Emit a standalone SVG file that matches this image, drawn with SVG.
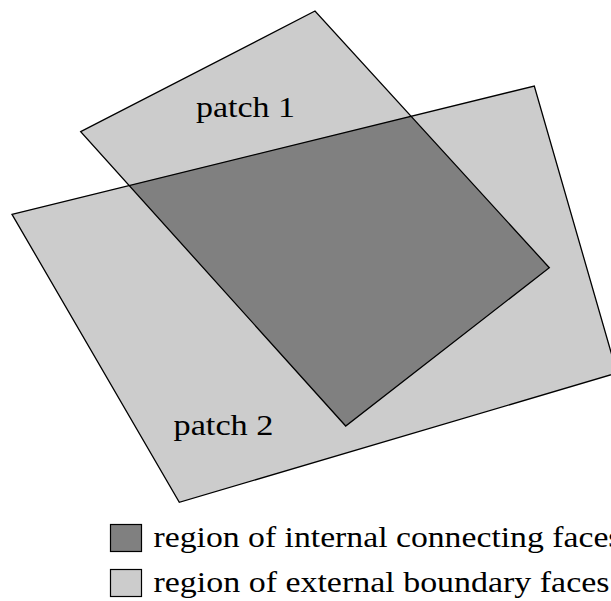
<svg xmlns="http://www.w3.org/2000/svg" width="611" height="601" viewBox="0 0 611 601">
<style>
.light{fill:#cccccc}
.dark{fill:#808080}
.edge{fill:none;stroke:#000;stroke-width:1.3;stroke-linejoin:miter}
.lbl{font-family:"Liberation Serif","DejaVu Serif",serif;font-size:29px;fill:#000}
.key{stroke:#000;stroke-width:1.2}
</style>
<defs>
<clipPath id="clipP1"><polygon points="80.7,131.7 315,11 549.3,267.7 345.7,426"/></clipPath>
</defs>
<rect width="611" height="601" fill="#fff"/>
<g id="patch2">
<polygon class="light" points="12,214.3 534.3,86 617,373 179.3,502.3"/>
</g>
<g id="patch1">
<polygon class="light" points="80.7,131.7 315,11 549.3,267.7 345.7,426"/>
</g>
<g id="overlap">
<polygon class="dark" clip-path="url(#clipP1)" points="12,214.3 534.3,86 617,373 179.3,502.3"/>
</g>
<g id="outlines">
<polygon class="edge" points="12,214.3 534.3,86 617,373 179.3,502.3"/>
<polygon class="edge" points="80.7,131.7 315,11 549.3,267.7 345.7,426"/>
</g>
<g id="labels">
<text class="lbl" x="196" y="117.3" textLength="99" lengthAdjust="spacingAndGlyphs">patch 1</text>
<text class="lbl" x="173.5" y="435" textLength="100" lengthAdjust="spacingAndGlyphs">patch 2</text>
</g>
<g id="legend-internal">
<rect class="key dark" x="110.5" y="524.5" width="31" height="27"/>
<text class="lbl" x="153.5" y="546.7" textLength="468" lengthAdjust="spacingAndGlyphs">region of internal connecting faces</text>
</g>
<g id="legend-external">
<rect class="key light" x="110.5" y="569.5" width="31" height="27"/>
<text class="lbl" x="153.5" y="591.7" textLength="456" lengthAdjust="spacingAndGlyphs">region of external boundary faces</text>
</g>
</svg>
